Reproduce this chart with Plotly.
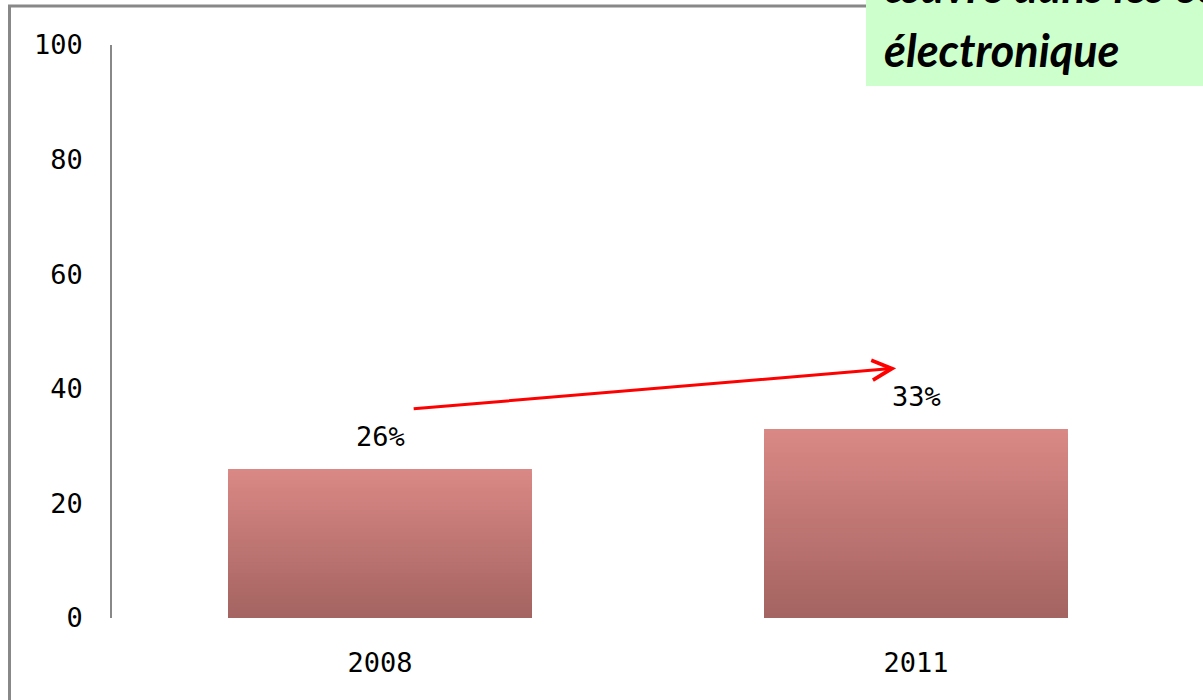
import plotly.graph_objects as go

# ---- data ----
years = ["2008", "2011"]
values = [26, 33]
value_labels = ["26%", "33%"]
y_ticks = [0, 20, 40, 60, 80, 100]
box_line1 = "œuvre dans les échanges"
box_line2 = "électronique"

# arrow endpoints (data coordinates: category index, value)
arrow_start = (0.06, 36.5)
arrow_end = (0.963, 43.6)

# ---- style ----
W, H = 1203, 700
L, R, T, B = 112, 19, 45, 82
TICK_FONT = dict(family="DejaVu Sans Mono", size=27, color="#000000")
top_rgb = (217, 136, 133)
bot_rgb = (163, 99, 96)
N_SEG = 40
BAR_W = 0.567

fig = go.Figure()

# gradient bars: overlaid, progressively shorter bars (top colour first)
for i in range(N_SEG):
    frac = (N_SEG - i) / N_SEG
    t = 1 - (i / N_SEG)
    c = tuple(int(round(bot_rgb[k] + (top_rgb[k] - bot_rgb[k]) * t)) for k in range(3))
    fig.add_trace(go.Bar(
        x=[0, 1],
        y=[v * frac for v in values],
        width=BAR_W,
        marker=dict(color="rgb(%d,%d,%d)" % c, line=dict(width=0)),
        showlegend=False,
        hoverinfo="skip",
    ))

fig.update_layout(
    width=W, height=H,
    margin=dict(l=L, r=R, t=T, b=B),
    paper_bgcolor="white",
    plot_bgcolor="white",
    barmode="overlay",
    showlegend=False,
    xaxis=dict(
        range=[-0.5, 1.5],
        tickmode="array",
        tickvals=[0, 1],
        ticktext=years,
        showgrid=False,
        zeroline=False,
        showline=False,
        ticks="",
        tickfont=TICK_FONT,
        ticklabelstandoff=26,
    ),
    yaxis=dict(
        range=[0, 100],
        tickmode="array",
        tickvals=y_ticks,
        ticktext=[str(v) for v in y_ticks],
        showgrid=False,
        zeroline=False,
        showline=True,
        linecolor="#888888",
        linewidth=1.5,
        ticks="",
        tickfont=TICK_FONT,
        ticklabelstandoff=22,
    ),
)

# value labels above bars
for i, (v, lab) in enumerate(zip(values, value_labels)):
    fig.add_annotation(
        x=i, y=v, xref="x", yref="y", text=lab, showarrow=False,
        yanchor="bottom", yshift=15, font=TICK_FONT,
    )

# red arrow
fig.add_annotation(
    x=arrow_end[0], y=arrow_end[1], ax=arrow_start[0], ay=arrow_start[1],
    xref="x", yref="y", axref="x", ayref="y",
    text="", showarrow=True, arrowhead=5, arrowsize=1.3, arrowwidth=3,
    arrowcolor="#ff0000", standoff=0, startstandoff=0,
)

def px_x(p):
    return (p - L) / (W - L - R)

def px_y(p):
    return (H - B - p) / (H - T - B)

# frame (left and top borders)
fig.add_shape(type="line", xref="paper", yref="paper",
              x0=px_x(9.5), x1=px_x(9.5), y0=px_y(5), y1=px_y(710),
              line=dict(color="#888888", width=3))
fig.add_shape(type="line", xref="paper", yref="paper",
              x0=px_x(8), x1=px_x(1215), y0=px_y(6), y1=px_y(6),
              line=dict(color="#888888", width=3))

# green box
fig.add_shape(type="rect", xref="paper", yref="paper",
              x0=px_x(866), x1=px_x(1220), y0=px_y(86), y1=px_y(-20),
              fillcolor="#ccffcc", line=dict(width=0), layer="above")

BOX_FONT = dict(family="Lato, Open Sans, sans-serif", size=45, color="#000000")
fig.add_annotation(xref="paper", yref="paper", x=px_x(882), y=px_y(-14),
                   xanchor="left", yanchor="middle", showarrow=False,
                   text="<b><i>%s</i></b>" % box_line1, font=BOX_FONT)
fig.add_annotation(xref="paper", yref="paper", x=px_x(882), y=px_y(50),
                   xanchor="left", yanchor="middle", showarrow=False,
                   text="<b><i>%s</i></b>" % box_line2, font=BOX_FONT)

fig.write_html("out.html", config={"displayModeBar": False},
               post_script="document.body.style.margin='0px';")
